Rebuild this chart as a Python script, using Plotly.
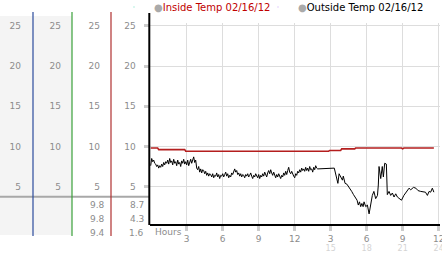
import plotly.graph_objects as go

# ---------------- data ----------------
# Outside temp, 5-minute samples from 0:00 to 13:55
out_regular = [
    7.6, 8.5, 8.1, 8.3, 7.9, 7.8, 7.5, 7.7, 7.3, 7.6, 7.4, 7.8,
    7.5, 8.0, 7.7, 8.1, 7.9, 8.3, 7.8, 8.5, 8.0, 8.2, 7.7, 8.4,
    7.9, 8.1, 7.6, 8.3, 7.8, 8.0, 7.5, 8.2, 7.9, 8.4, 7.8, 8.1,
    7.7, 8.3, 7.6, 8.0, 8.4, 7.9, 8.2, 8.7, 8.0, 8.3, 7.3, 7.1,
    7.5, 6.8, 7.2, 6.7, 7.1, 7.0, 6.6, 6.9, 6.4, 6.7, 6.3, 6.6,
    6.5, 6.2, 6.6, 6.1, 6.4, 6.3, 6.7, 6.2, 6.5, 6.0, 6.4, 6.3,
    6.6, 6.2, 6.5, 6.8, 6.3, 6.6, 6.1, 6.4, 6.2, 6.7, 6.5, 6.9,
    7.2, 6.8, 7.0, 6.5, 6.7, 6.3, 6.6, 6.2, 6.5, 6.4, 6.1, 6.5,
    6.3, 6.6, 6.2, 6.4, 6.7, 6.3, 6.0, 6.4, 6.2, 6.6, 6.3, 6.1,
    6.5, 6.0, 6.4, 6.2, 6.6, 6.3, 6.8, 6.4, 6.2, 6.7, 7.0, 6.6,
    7.1, 6.7, 6.4, 6.8, 6.3, 6.1, 6.5, 6.2, 6.6, 6.3, 6.0, 6.4,
    6.2, 6.7, 6.4, 6.9, 6.5, 7.0, 7.4, 6.8, 6.6, 6.9, 6.5, 6.3,
    6.1, 6.6, 6.4, 6.9, 6.7, 7.1, 6.8, 7.3, 7.0, 7.2, 6.9, 7.4,
    7.0, 7.3, 6.9, 7.5, 7.1, 7.2, 6.8, 7.4, 7.1, 7.6, 7.3, 7.2,
]
out_tail_hours = [15.3, 15.45, 15.6, 15.7, 15.85, 15.98, 16.05, 16.2, 16.35, 16.5,
                  16.65, 16.75, 16.9, 17.0, 17.1, 17.2, 17.3, 17.4, 17.5, 17.6,
                  17.7, 17.78, 17.92, 18.06, 18.2, 18.33, 18.47, 18.6, 18.75, 18.9,
                  18.97, 19.03, 19.17, 19.3, 19.39, 19.5, 19.64, 19.72, 19.86, 20.0,
                  20.14, 20.28, 20.42, 20.56, 20.7, 20.9, 21.1, 21.33, 21.53, 21.67,
                  21.9, 22.1, 22.28, 22.5, 22.72, 22.9, 23.06, 23.2, 23.33, 23.47, 23.6]
out_tail_temp = [7.3, 6.2, 5.4, 6.6, 6.2, 5.8, 6.3, 5.4, 5.3, 5.0,
                 4.7, 4.4, 4.0, 3.7, 3.5, 3.3, 2.7, 3.1, 2.5, 2.9,
                 2.5, 3.1, 2.5, 2.7, 1.6, 2.7, 3.9, 4.4, 3.5, 3.9,
                 5.2, 7.5, 6.0, 7.5, 6.2, 7.9, 7.8, 4.0, 4.4, 3.9,
                 4.2, 3.7, 4.1, 3.7, 3.5, 3.3, 3.9, 4.4, 4.8, 4.6,
                 4.9, 4.8, 4.5, 4.4, 4.3, 4.3, 3.9, 4.4, 4.3, 4.8, 4.3]

in_hours = [0, 0.58, 0.67, 2.83, 2.92, 14.83, 14.92, 15.83, 15.92, 17.0, 17.08, 20.9, 21.0, 21.1, 23.6]
in_temp = [9.8, 9.8, 9.6, 9.6, 9.4, 9.4, 9.5, 9.5, 9.7, 9.7, 9.8, 9.8, 9.7, 9.8, 9.8]

out_hours = [i * 5 / 60 for i in range(len(out_regular))] + out_tail_hours
out_temp = out_regular + out_tail_temp

y_ticks = [5, 10, 15, 20, 25]
x_ticks = [3, 6, 9, 12, 15, 18, 21, 24]
x_labels = ["3", "6", "9", "12", "3", "6", "9", "12"]
x_ticks_24h = [15, 18, 21, 24]
x_labels_24h = ["15", "18", "21", "24"]

inside_stats = ["9.8", "9.8", "9.4"]    # max, current, min
outside_stats = ["8.7", "4.3", "1.6"]

# ---------------- layout helpers (pixel geometry) ----------------
W, H = 442, 253
ML, MR, MT, MB = 0, 2, 23, 29
PW = W - ML - MR
PH = H - MT - MB
def px(x): return (x - ML) / PW
def py(y): return (H - MB - y) / PH

Y_RANGE = [0.34, 0.34 + PH / 8.03]
X_RANGE = [-0.1, 24.11]

GRAY = "#8c8c8c"
MARK = "#cccccc"
FONT = "DejaVu Sans"

fig = go.Figure()

# data traces
fig.add_trace(go.Scatter(x=in_hours, y=in_temp, mode="lines",
                         line=dict(color="#b41e1e", width=1.6), showlegend=False,
                         name="Inside Temp 02/16/12"))
fig.add_trace(go.Scatter(x=out_hours, y=out_temp, mode="lines",
                         line=dict(color="#000000", width=1), showlegend=False,
                         name="Outside Temp 02/16/12"))

# legend entries
fig.add_trace(go.Scatter(x=[None], y=[None], mode="markers",
                         marker=dict(size=1, opacity=0), legend="legend",
                         name="<span style='color:#aaaaaa'>●</span><span style='color:#c00000'>Inside Temp 02/16/12</span>"))
fig.add_trace(go.Scatter(x=[None], y=[None], mode="markers",
                         marker=dict(size=1, opacity=0), legend="legend2",
                         name="<span style='color:#aaaaaa'>●</span><span style='color:#000000'>Outside Temp 02/16/12</span>"))

# extra axes for the left value columns and the 24h labels
for ax in ("y2", "y3", "y4"):
    fig.add_trace(go.Scatter(x=[None], y=[None], yaxis=ax, showlegend=False, hoverinfo="skip"))
fig.add_trace(go.Scatter(x=[None], y=[None], xaxis="x2", showlegend=False, hoverinfo="skip"))

legend_common = dict(orientation="h", yanchor="middle", xanchor="left",
                     font=dict(size=10, family=FONT, color="black"),
                     bgcolor="rgba(0,0,0,0)", itemwidth=30, borderwidth=0)

fig.update_layout(
    width=W, height=H,
    margin=dict(l=ML, r=MR, t=MT, b=MB, autoexpand=False),
    paper_bgcolor="white", plot_bgcolor="white",
    font=dict(family=FONT, size=9, color=GRAY),
    xaxis=dict(domain=[px(149.5), 1], range=X_RANGE, tickvals=x_ticks, ticktext=x_labels,
               showgrid=True, gridcolor="#dddddd", gridwidth=1, zeroline=False,
               showline=True, linecolor="black", linewidth=2,
               ticks="outside", ticklen=5, tickwidth=3, tickcolor=MARK,
               ticklabelstandoff=0, ticklabeloverflow="allow",
               tickfont=dict(size=9, color=GRAY), automargin=False),
    xaxis2=dict(overlaying="x", anchor="y", side="bottom", domain=[px(149.5), 1], range=X_RANGE,
                tickvals=x_ticks_24h, ticktext=x_labels_24h, showgrid=False, zeroline=False,
                showline=False, ticks="", ticklabelstandoff=18, ticklabeloverflow="allow",
                tickfont=dict(size=8, color="#d4d4d4"), automargin=False),
    yaxis=dict(range=Y_RANGE, tickvals=y_ticks, showgrid=True, gridcolor="#dddddd",
               zeroline=False, showline=False,
               ticks="outside", ticklen=5, tickwidth=3, tickcolor=MARK,
               ticklabelstandoff=6, tickfont=dict(size=9, color=GRAY), automargin=False),
    legend=dict(x=px(159) - 45 / PW, y=py(7), **legend_common),
    legend2=dict(x=px(303) - 45 / PW, y=py(7), **legend_common),
)

for name, xpos, stand in (("yaxis2", 33, 12), ("yaxis3", 72, 11), ("yaxis4", 111, 11)):
    fig.layout[name] = dict(overlaying="y", anchor="free", position=px(xpos), side="left",
                            range=Y_RANGE, tickvals=y_ticks, showgrid=False, zeroline=False,
                            showline=False, ticks="", ticklabelstandoff=stand,
                            tickfont=dict(size=9, color=GRAY), automargin=False)

shapes = [
    dict(type="rect", xref="paper", yref="paper", x0=0, x1=px(72), y0=py(235), y1=py(16),
         fillcolor="#f4f4f4", line=dict(width=0), layer="below"),
    dict(type="line", xref="paper", yref="paper", x0=0, x1=px(149), y0=py(196.7), y1=py(196.7),
         line=dict(color="#a8a8a8", width=2)),
    dict(type="line", xref="paper", yref="paper", x0=px(33), x1=px(33), y0=py(236), y1=py(12),
         line=dict(color="#2b4a9c", width=1.2)),
    dict(type="line", xref="paper", yref="paper", x0=px(72), x1=px(72), y0=py(236), y1=py(12),
         line=dict(color="#3aa03a", width=1.2)),
    dict(type="line", xref="paper", yref="paper", x0=px(111), x1=px(111), y0=py(236), y1=py(12),
         line=dict(color="#b03030", width=1.2)),
    dict(type="line", xref="paper", yref="paper", x0=px(149.3), x1=px(149.3), y0=py(225), y1=py(13),
         line=dict(color="black", width=2)),
]
fig.update_layout(shapes=shapes)

annotations = [dict(text="Hours", xref="paper", yref="paper", x=px(152.5), y=py(232),
                    xanchor="left", yanchor="middle", showarrow=False,
                    font=dict(size=9, color=GRAY))]
for i, (a, b) in enumerate(zip(inside_stats, outside_stats)):
    yy = py([204.5, 218.5, 232.5][i])
    annotations.append(dict(text=a, xref="paper", yref="paper", x=px(107), y=yy,
                            xanchor="right", yanchor="middle", showarrow=False,
                            font=dict(size=9, color=GRAY)))
    annotations.append(dict(text=b, xref="paper", yref="paper", x=px(146), y=yy,
                            xanchor="right", yanchor="middle", showarrow=False,
                            font=dict(size=9, color=GRAY)))
fig.update_layout(annotations=annotations)

fig.write_html("out.html")
